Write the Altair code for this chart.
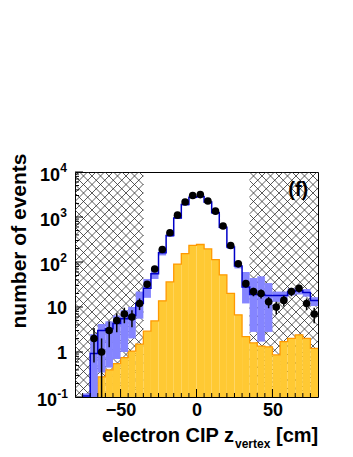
import altair as alt
import pandas as pd
import numpy as np

FONT = "Liberation Sans"
W, H = 243, 225
X_MIN, X_MAX = -80, 80
Y_MIN, Y_MAX = 0.1, 1e4

# ---------------- data ----------------
bin_lo = list(range(-80, 80, 5))   # 5 cm bins, lower edges
yellow = [None, None, 0.11, 0.28, 0.40, 0.55, 0.75, 1.05, 1.5, 2.9, 4.9, 13.7, 36, 90, 154, 233,
          245, 195, 113, 52, 20, 6.7, 2.2, 1.6, 1.35, 1.3, 0.86, 1.7, 2.0, 2.4, 2.0, 1.2]
mc_total = [None, 0.105, 0.93, 3.0, 3.3, 4.3, 5.5, 6.5, 12, 26, 55, 160, 390, 950, 1900, 2750,
            2850, 2150, 1250, 590, 215, 82, 28, 19, 19, 18, 18, 18, 22, 23, 21, 14]
band_lo = [None, 0.1, 0.1, 0.35, 0.45, 0.7, 1.0, 2.0, 5.5, 16, 42, 140, 360, 900, 1800, 2600,
           2700, 2050, 1180, 550, 195, 72, 12, 2.8, 1.7, 2.8, 13, 14, 18, 19, 17, 10.5]
band_hi = [None, 0.12, 2.5, 4.2, 4.8, 6.5, 8.5, 10, 22, 42, 75, 190, 430, 1010, 2000, 2900,
           3000, 2300, 1330, 630, 240, 98, 60, 44, 48, 34, 22, 22, 26, 27, 25, 16.5]
data_n = [None, None, 2, 1, 3, 5, 7, 6, 12, 32, 70, 190, 446, 1100, 2150, 3000,
          3150, 2270, 1350, 630, 233, 91, 33, 22, 20, 13, 10, 14, 22, 26, 12, 7]

x_label_values = [-50, 0, 50]
y_label_vals = [1e4, 1e3, 1e2, 10, 1, 0.1]
y_label_base = ["10", "10", "10", "10", "1", "10"]
y_label_exp = ["4", "3", "2", "", "", "-1"]
cut_left, cut_right = -35, 35
panel_tag = "(f)"
tag_x, tag_y = 67, 3900

# ---------------- frames ----------------
df = pd.DataFrame({"lo": bin_lo, "yellow": yellow, "mc": mc_total,
                   "blo": band_lo, "bhi": band_hi, "n": data_n})
df["hi"] = df["lo"] + 5
df["c"] = df["lo"] + 2.5
df["base"] = Y_MIN

ydf = df.dropna(subset=["yellow"])
ystep = pd.DataFrame({"x": list(ydf["lo"]) + [ydf["hi"].iloc[-1]],
                      "y": list(ydf["yellow"]) + [ydf["yellow"].iloc[-1]]})
mdf = df.dropna(subset=["mc"])
mstep = pd.DataFrame({"x": list(mdf["lo"]) + [mdf["hi"].iloc[-1]],
                      "y": list(mdf["mc"]) + [mdf["mc"].iloc[-1]]})
bdf = df.dropna(subset=["blo"])
ddf = df.dropna(subset=["n"]).copy()
err = np.sqrt(ddf["n"])
ddf["elo"] = np.maximum(ddf["n"] - err, Y_MIN)
ddf["ehi"] = ddf["n"] + err

# cross-hatch of the excluded regions, built in data units
LMIN, LMAX = np.log10(Y_MIN), np.log10(Y_MAX)
def to_px(x):
    return (x - X_MIN) / (X_MAX - X_MIN) * W
def from_px(px, py):
    return px / W * (X_MAX - X_MIN) + X_MIN, 10 ** (LMIN + py / H * (LMAX - LMIN))

def hatch(x0, x1, s=8.5):
    a, b = to_px(x0), to_px(x1)
    segs = []
    for n in range(int(np.floor(-(W + H) / s)), int(np.ceil((W + H) / s)) + 1):
        k = n * s
        xa, xb = max(a, -k), min(b, H - k)
        if xb > xa:
            segs.append((xa, xa + k, xb, xb + k))
        xa, xb = max(a, k - H), min(b, k)
        if xb > xa:
            segs.append((xa, k - xa, xb, k - xb))
    rows = []
    for (p1, q1, p2, q2) in segs:
        X1, Y1 = from_px(p1, q1)
        X2, Y2 = from_px(p2, q2)
        rows.append({"x1": X1, "y1": Y1, "x2": X2, "y2": Y2})
    return rows

hdf = pd.DataFrame(hatch(X_MIN, cut_left) + hatch(cut_right, X_MAX))

xt_minor = pd.DataFrame({"t": [v for v in range(-75, 80, 5) if v % 50 != 0]})
xt_major = pd.DataFrame({"t": x_label_values})
yt_major = pd.DataFrame({"t": y_label_vals})
yt_minor = pd.DataFrame({"t": [m * 10.0 ** e for e in range(-1, 4) for m in range(2, 10)]})

ylab = pd.DataFrame({"v": y_label_vals, "base": y_label_base, "exp": y_label_exp})

# ---------------- scales / axes ----------------
xs = alt.Scale(domain=[X_MIN, X_MAX], nice=False, zero=False)
ysc = alt.Scale(type="log", domain=[Y_MIN, Y_MAX], nice=False)
x_axis = alt.Axis(values=x_label_values, title=None, labelFont=FONT, labelFontSize=18,
                  labelFontWeight="bold", labelColor="black", ticks=False, tickSize=0,
                  domain=False, grid=False, labelPadding=4, labelFlush=False)

def X(f):
    return alt.X(f, scale=xs, axis=x_axis, title=None)
def Y(f):
    return alt.Y(f, scale=ysc, axis=None, title=None)

hatch_l = alt.Chart(hdf).mark_rule(color="#262626", strokeWidth=0.75, clip=True).encode(
    x=X("x1:Q"), x2="x2:Q", y=Y("y1:Q"), y2="y2:Q")

yellow_rect = alt.Chart(ydf).mark_rect(color="#ffc933", clip=True).encode(
    x=X("lo:Q"), x2="hi:Q", y=Y("yellow:Q"), y2="base:Q")
yellow_line = alt.Chart(ystep).mark_line(color="#ff9900", strokeWidth=1.3,
                                         interpolate="step-after", clip=True).encode(
    x=X("x:Q"), y=Y("y:Q"))

band = alt.Chart(bdf).mark_rect(color="#8585ff", clip=True).encode(
    x=X("lo:Q"), x2="hi:Q", y=Y("blo:Q"), y2="bhi:Q")
mc_line = alt.Chart(mstep).mark_line(color="#0000c8", strokeWidth=1.5,
                                     interpolate="step-after", clip=True).encode(
    x=X("x:Q"), y=Y("y:Q"))

ebars = alt.Chart(ddf).mark_rule(color="black", strokeWidth=1.5, clip=True).encode(
    x=X("c:Q"), y=Y("elo:Q"), y2="ehi:Q")
points = alt.Chart(ddf).mark_circle(color="black", opacity=1, size=58, clip=True).encode(
    x=X("c:Q"), y=Y("n:Q"))

xtm = alt.Chart(xt_minor).mark_rule(color="black", strokeWidth=1).encode(
    x=X("t:Q"), y=alt.value(H), y2=alt.value(H - 4))
xtM = alt.Chart(xt_major).mark_rule(color="black", strokeWidth=1).encode(
    x=X("t:Q"), y=alt.value(H), y2=alt.value(H - 8))
ytM = alt.Chart(yt_major).mark_rule(color="black", strokeWidth=1).encode(
    y=Y("t:Q"), x=alt.value(0), x2=alt.value(8))
ytm = alt.Chart(yt_minor).mark_rule(color="black", strokeWidth=1).encode(
    y=Y("t:Q"), x=alt.value(0), x2=alt.value(4))

lab_kw = dict(font=FONT, fontWeight="bold", color="black", baseline="middle", align="right")
lab_plain = alt.Chart(ylab).transform_filter("datum.exp == ''").mark_text(
    fontSize=18, dy=2, **lab_kw).encode(y=Y("v:Q"), x=alt.value(-8), text="base:N")
lab_sup1 = alt.Chart(ylab).transform_filter("length(datum.exp) == 1").mark_text(
    fontSize=18, dy=4, **lab_kw).encode(y=Y("v:Q"), x=alt.value(-15), text="base:N")
exp_sup1 = alt.Chart(ylab).transform_filter("length(datum.exp) == 1").mark_text(
    fontSize=12, dy=-4, **lab_kw).encode(y=Y("v:Q"), x=alt.value(-8), text="exp:N")
lab_sup2 = alt.Chart(ylab).transform_filter("length(datum.exp) == 2").mark_text(
    fontSize=18, dy=4, **lab_kw).encode(y=Y("v:Q"), x=alt.value(-18), text="base:N")
exp_sup2 = alt.Chart(ylab).transform_filter("length(datum.exp) == 2").mark_text(
    fontSize=12, dy=-3, **lab_kw).encode(y=Y("v:Q"), x=alt.value(-7), text="exp:N")

def txt(s, x, y, size, align="left", angle=0, baseline="alphabetic"):
    return alt.Chart(pd.DataFrame({"t": [s]})).mark_text(
        font=FONT, fontWeight="bold", fontSize=size, color="black", align=align,
        baseline=baseline, angle=angle).encode(x=alt.value(x), y=alt.value(y), text="t:N")

xt1 = txt("electron CIP z", 159, 270, 20, align="right")
xt2 = txt("vertex", 160, 276, 12)
xt3 = txt("[cm]", 201, 270, 20)
ytitle = txt("number of events", -55, 69, 21, align="center", angle=270, baseline="middle")

tag = alt.Chart(pd.DataFrame({"x": [tag_x], "y": [tag_y], "t": [panel_tag]})).mark_text(
    font=FONT, fontWeight="bold", fontSize=20, color="black", align="center",
    baseline="middle").encode(x=X("x:Q"), y=Y("y:Q"), text="t:N")

chart = alt.layer(
    hatch_l, yellow_rect, yellow_line, band, mc_line, ebars, points,
    xtm, xtM, ytM, ytm,
    lab_plain, lab_sup1, exp_sup1, lab_sup2, exp_sup2,
    xt1, xt2, xt3, ytitle, tag
).properties(
    width=W, height=H,
    autosize=alt.AutoSizeParams(type="none"),
    padding={"left": 67, "top": 164, "right": 27, "bottom": 58},
    background="white",
).configure_view(stroke="black", strokeWidth=1)

chart.save("out.html", embed_options={"renderer": "svg", "actions": False})
